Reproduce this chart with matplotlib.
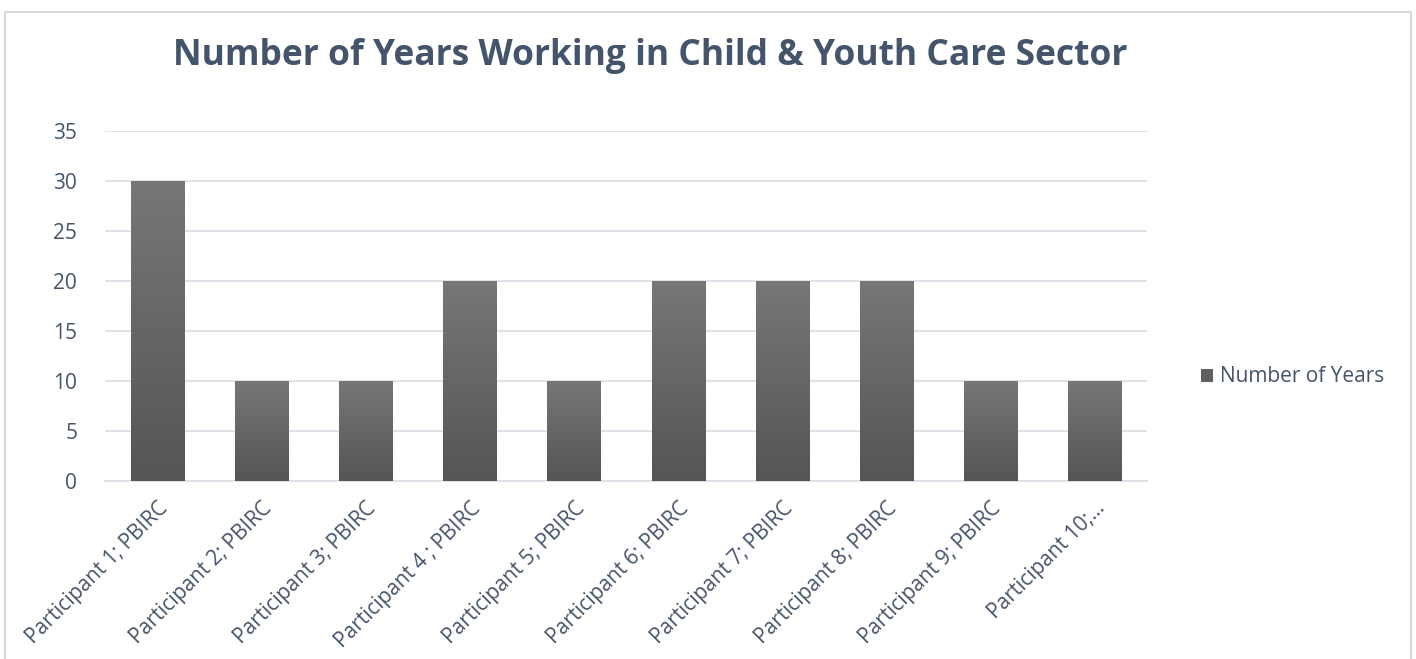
import numpy as np
import matplotlib.pyplot as plt
from matplotlib.patches import Rectangle

# Data
participants = ["Participant 1; PBIRC", "Participant 2; PBIRC", "Participant 3; PBIRC",
                "Participant 4 ; PBIRC", "Participant 5; PBIRC", "Participant 6; PBIRC",
                "Participant 7; PBIRC", "Participant 8; PBIRC", "Participant 9; PBIRC",
                "Participant 10;\u2026"]
years = [30, 10, 10, 20, 10, 20, 20, 20, 10, 10]
y_ticks = [0, 5, 10, 15, 20, 25, 30, 35]

text_color = "#44546A"
grid_color = "#D9DDE4"

plt.rcParams['font.family'] = ['Open Sans', 'DejaVu Sans']

fig = plt.figure(figsize=(14.16, 6.59), dpi=100)

# outer chart frame
fig.patches.append(Rectangle((5 / 1416, -0.05), 1406 / 1416, 1.05 - 12 / 659,
                             transform=fig.transFigure, fill=False,
                             edgecolor="#D9D9D9", linewidth=1.5))

ax = fig.add_axes([105 / 1416, 178 / 659, 1042 / 1416, 350 / 659])

x = np.arange(len(participants))
bars = ax.bar(x, years, width=0.51, color="#606060", zorder=2, label="Number of Years")

# vertical gradient on each bar
grad = np.linspace(0, 1, 256).reshape(-1, 1)
cmap = plt.matplotlib.colors.LinearSegmentedColormap.from_list("g", ["#555555", "#777777"])
for b in bars:
    bx, by = b.get_x(), b.get_y()
    w, h = b.get_width(), b.get_height()
    im = ax.imshow(grad, extent=[bx, bx + w, by, by + h], origin="lower",
                   cmap=cmap, aspect="auto", zorder=3)
    im.set_clip_path(b)

ax.set_xlim(-0.5, len(participants) - 0.5)
ax.set_ylim(0, 35)
ax.set_yticks(y_ticks)
ax.set_xticks(x)
ax.set_xticklabels(participants, rotation=45, ha="right", rotation_mode="anchor")
ax.tick_params(axis="both", length=0, labelsize=15, labelcolor=text_color)
ax.tick_params(axis="y", pad=20)
ax.tick_params(axis="x", pad=12)

ax.grid(axis="y", color=grid_color, linewidth=1.2, zorder=0)
for s in ["top", "right", "left"]:
    ax.spines[s].set_visible(False)
ax.spines["bottom"].set_color(grid_color)
ax.spines["bottom"].set_linewidth(1.2)

fig.text(650 / 1416, 1 - 56 / 659, "Number of Years Working in Child & Youth Care Sector",
         ha="center", va="center", fontsize=25.5, fontweight="bold", color=text_color)

leg = fig.legend(handles=[Rectangle((0, 0), 1, 1, facecolor="#5f5f5f")],
                 labels=["Number of Years"], loc="center left",
                 bbox_to_anchor=(1182 / 1416, 1 - 377 / 659), frameon=False,
                 handlelength=0.6, handleheight=0.6, handletextpad=0.3,
                 prop={"size": 15})
for t in leg.get_texts():
    t.set_color(text_color)

fig.savefig("out.png", dpi=100)
